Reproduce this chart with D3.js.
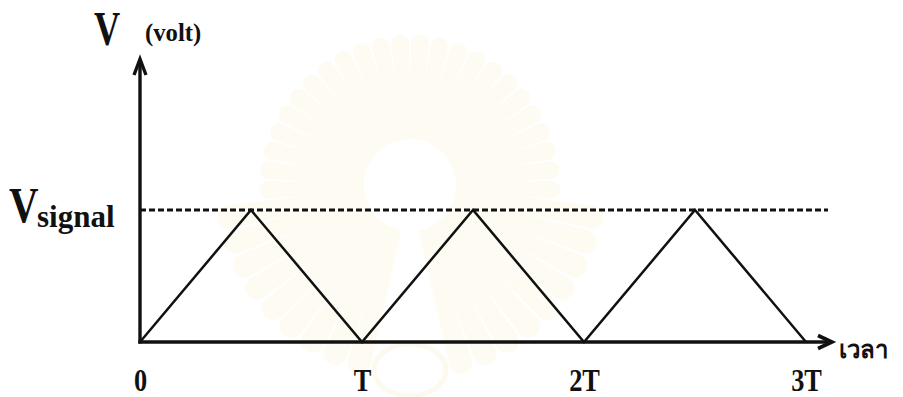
<!DOCTYPE html>
<html>
<head>
<meta charset="utf-8">
<script src="https://cdn.jsdelivr.net/npm/d3@7"></script>
<style>
  html, body { margin: 0; padding: 0; background: #fff; }
  svg { display: block; }
  .lbl { font-family: "Liberation Serif", "Times New Roman", serif; font-weight: bold; fill: #111; }
</style>
</head>
<body>
<svg id="chart" width="903" height="397"></svg>
<script>
// Triangle wave: time in periods, voltage as a fraction of V_signal
const waveTime = [0, 0.5, 1, 1.5, 2, 2.5, 3];
const waveVolt = [0, 1, 0, 1, 0, 1, 0];
const signalLevel = 1;
const tickValues = [0, 1, 2, 3];
const tickLabels = ["0", "T", "2T", "3T"];

const svg = d3.select("#chart");

const x = d3.scaleLinear().domain([0, 3]).range([140, 806]);
const y = d3.scaleLinear().domain([0, 1]).range([342, 210]);

// faint background emblem: a ring of petal-shaped rays round a blank disc
const emblem = svg.append("g").attr("transform", "translate(410,185)");
const rayAngles = d3.range(-164, 165, 8);
emblem.selectAll("path.ray")
  .data(rayAngles)
  .join("path")
  .attr("class", "ray")
  .attr("d", a => {
    const r0 = 45, r1 = Math.abs(a) > 95 ? 185 : 142;
    const w = 3.6 * Math.PI / 180;
    const t = (a - 90) * Math.PI / 180;
    const p = (ang, r) => [Math.cos(ang) * r, Math.sin(ang) * r];
    const [x0, y0] = p(t - w * 1.5, r0), [x1, y1] = p(t + w * 1.5, r0);
    const [x2, y2] = p(t + w, r1), [x3, y3] = p(t - w, r1);
    return `M${x0},${y0}L${x3},${y3}A${r1 * w},${r1 * w} 0 0 1 ${x2},${y2}L${x1},${y1}Z`;
  })
  .attr("fill", "#fdfbf2");
emblem.append("circle").attr("r", 46).attr("fill", "#fff");
emblem.append("ellipse").attr("cx", 0).attr("cy", 185).attr("rx", 36).attr("ry", 26)
  .attr("fill", "none").attr("stroke", "#fcf9ee").attr("stroke-width", 5);

// signal level reference
svg.append("line")
  .attr("x1", x(0)).attr("x2", 828)
  .attr("y1", y(signalLevel)).attr("y2", y(signalLevel))
  .attr("stroke", "#111").attr("stroke-width", 2.8)
  .attr("stroke-dasharray", "6,3");

// waveform
const line = d3.line().x((d, i) => x(waveTime[i])).y(d => y(d));
svg.append("path")
  .datum(waveVolt)
  .attr("d", line)
  .attr("fill", "none")
  .attr("stroke", "#111")
  .attr("stroke-width", 2.5)
  .attr("stroke-linejoin", "miter");

// axes with arrowheads
const axisColor = "#111";
svg.append("line")
  .attr("x1", x(0)).attr("x2", x(0))
  .attr("y1", y(0) + 1.5).attr("y2", 62)
  .attr("stroke", axisColor).attr("stroke-width", 3.4);
svg.append("path")
  .attr("d", `M${x(0) - 6},${75} L${x(0)},${59} L${x(0) + 6},${75}`)
  .attr("fill", "none").attr("stroke", axisColor).attr("stroke-width", 3.4)
  .attr("stroke-linejoin", "miter");

svg.append("line")
  .attr("x1", x(0) - 1.7).attr("x2", 829)
  .attr("y1", y(0)).attr("y2", y(0))
  .attr("stroke", axisColor).attr("stroke-width", 3.6);
svg.append("path")
  .attr("d", `M${818},${y(0) - 6.5} L${832},${y(0)} L${818},${y(0) + 6.5}`)
  .attr("fill", "none").attr("stroke", axisColor).attr("stroke-width", 3.6)
  .attr("stroke-linejoin", "miter");

// time tick labels
const xAxis = d3.axisBottom(x)
  .tickValues(tickValues)
  .tickFormat((d, i) => tickLabels[i])
  .tickSize(0)
  .tickPadding(0);
const gx = svg.append("g").attr("transform", `translate(0,${y(0)})`).call(xAxis);
gx.select(".domain").remove();
gx.selectAll(".tick text")
  .attr("class", "lbl")
  .attr("y", 0).attr("dy", 0)
  .attr("transform", "translate(0,49) scale(0.85,1)")
  .attr("font-size", 31)
  .style("font-family", "'Liberation Serif', serif")
  .style("font-weight", "bold")
  .attr("fill", "#111");

// axis titles
svg.append("text").attr("class", "lbl")
  .attr("transform", "translate(94,45) scale(0.74,1)")
  .attr("font-size", 49)
  .text("V");
svg.append("text").attr("class", "lbl")
  .attr("transform", "translate(145,41) scale(0.95,1)")
  .attr("font-size", 26)
  .text("(volt)");

svg.append("text").attr("class", "lbl")
  .attr("transform", "translate(9,222) scale(0.8,1)")
  .attr("font-size", 51)
  .text("V");
svg.append("text").attr("class", "lbl")
  .attr("transform", "translate(37,227) scale(0.97,1)")
  .attr("font-size", 32)
  .text("signal");

svg.append("text").attr("class", "lbl")
  .attr("x", 839).attr("y", 358)
  .attr("font-size", 24)
  .text("เวลา");
</script>
</body>
</html>
